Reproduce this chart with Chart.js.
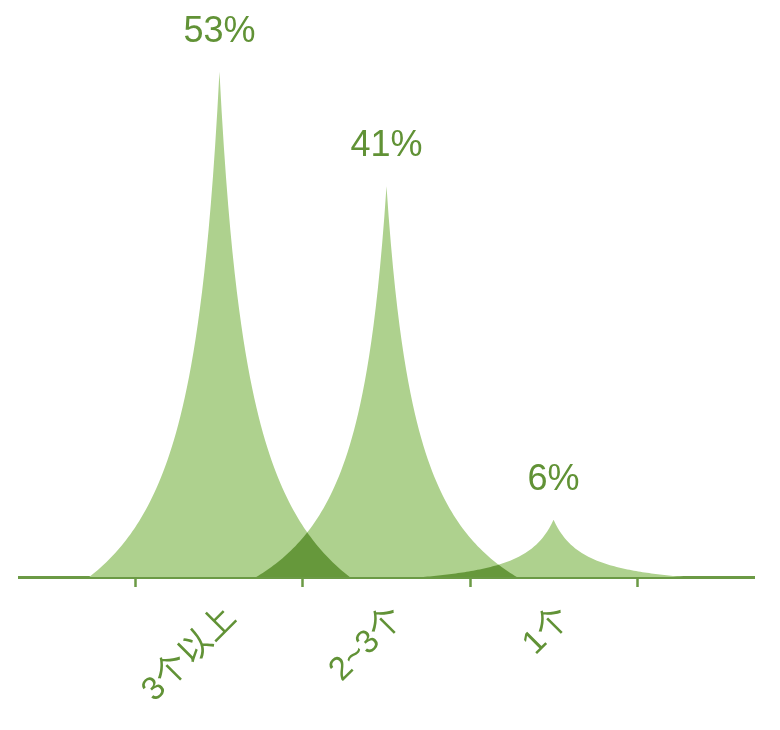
<!DOCTYPE html>
<html>
<head>
<meta charset="utf-8">
<script src="https://cdn.jsdelivr.net/npm/chart.js@4"></script>
<style>
  body { margin: 0; background: #fff; }
</style>
</head>
<body>
<canvas id="spikeChart" width="780" height="730"></canvas>
<script>
const categories = ['3个以上', '2~3个', '1个'];
const positions = [0, 1, 2];
const shares = [53, 41, 6];

const lightGreen = '#aed18e';
const darkGreen = '#66983b';
const axisGreen = '#6b9a45';
const textGreen = '#619236';

// half width of each spike, in x-axis units
const spread = 0.78;
// rotated labels sit a little right of the spike centre
const labelNudge = 0.07;

function spikePath(cx, peakY, baseY, half) {
  const p = new Path2D();
  const k = 4;
  const steps = 60;
  const hgt = baseY - peakY;
  p.moveTo(cx - half, baseY);
  for (let s = 1; s <= steps; s++) {
    const w = 1 - s / steps;
    const h = (1 - w) / (1 + k * w);
    p.lineTo(cx - w * half, baseY - h * hgt);
  }
  for (let s = 1; s <= steps; s++) {
    const w = s / steps;
    const h = (1 - w) / (1 + k * w);
    p.lineTo(cx + w * half, baseY - h * hgt);
  }
  p.closePath();
  return p;
}

const spikes = {
  id: 'spikes',
  afterDatasetsDraw(chart) {
    const { ctx, scales: { x, y } } = chart;
    const meta = chart.getDatasetMeta(0);
    const base = y.getPixelForValue(0);
    const paths = meta.data.map((pt, i) => {
      const half = x.getPixelForValue(positions[i] + spread) - pt.x;
      return spikePath(pt.x, pt.y, base, half);
    });

    ctx.save();
    ctx.fillStyle = lightGreen;
    paths.forEach(p => ctx.fill(p));
    // darker where neighbours overlap
    for (let i = 0; i < paths.length - 1; i++) {
      ctx.save();
      ctx.clip(paths[i]);
      ctx.fillStyle = darkGreen;
      ctx.fill(paths[i + 1]);
      ctx.restore();
    }

    ctx.fillStyle = textGreen;
    ctx.font = '36px "Liberation Sans", Arial, sans-serif';
    ctx.textAlign = 'center';
    ctx.textBaseline = 'middle';
    meta.data.forEach((pt, i) => {
      ctx.fillText(shares[i] + '%', pt.x, pt.y - 40);
    });
    ctx.restore();
  }
};

const boundaryTicks = [-0.5, 0.5, 1.5, 2.5];

new Chart(document.getElementById('spikeChart'), {
  type: 'line',
  data: {
    datasets: [{
      data: positions.map((p, i) => ({ x: p, y: shares[i] })),
      showLine: false,
      pointRadius: 0,
      pointHoverRadius: 0
    }]
  },
  options: {
    responsive: false,
    animation: false,
    layout: { padding: { left: 19, right: 26, top: 5, bottom: 0 } },
    plugins: {
      legend: { display: false },
      tooltip: { enabled: false }
    },
    scales: {
      x: {
        type: 'linear',
        min: -1.2,
        max: 3.2,
        z: 1,
        afterBuildTicks(scale) {
          const vals = boundaryTicks.concat(positions.map(p => p + labelNudge));
          scale.ticks = vals.sort((a, b) => a - b).map(v => ({ value: v }));
        },
        afterFit(scale) {
          scale.height = 153;
        },
        border: { display: true, color: axisGreen, width: 3 },
        grid: {
          drawOnChartArea: false,
          drawTicks: true,
          tickLength: 10,
          tickWidth: 2.5,
          tickColor: (c) => boundaryTicks.includes(c.tick.value) ? axisGreen : 'rgba(0,0,0,0)'
        },
        ticks: {
          autoSkip: false,
          minRotation: 45,
          maxRotation: 45,
          padding: 12,
          color: textGreen,
          font: { size: 33, family: '"Liberation Sans", "Noto Sans CJK SC", sans-serif' },
          callback: (v) => boundaryTicks.includes(v) ? '' : categories[Math.round(v)]
        }
      },
      y: {
        display: false,
        min: 0,
        max: 60
      }
    }
  },
  plugins: [spikes]
});
</script>
</body>
</html>
